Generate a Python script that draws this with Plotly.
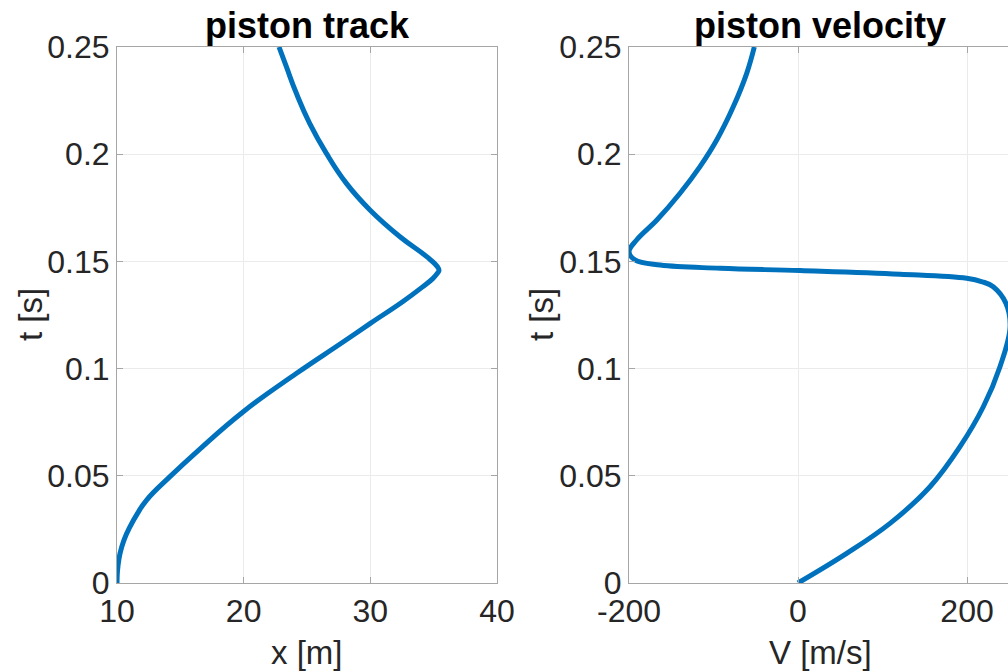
import plotly.graph_objects as go

# Piston track: position x [m] against time t [s]
track_t = [0.0, 0.0040, 0.0085, 0.0138, 0.0200, 0.0263, 0.0325, 0.0387, 0.0496, 0.0620,
           0.0799, 0.0978, 0.1118, 0.1211, 0.1312, 0.1380, 0.1421, 0.1445, 0.1458,
           0.1475, 0.1522, 0.1615, 0.1740, 0.1864, 0.2004, 0.2144, 0.2284, 0.2408, 0.2500]
track_x = [10.0, 10.02, 10.09, 10.24, 10.55, 11.03, 11.62, 12.34, 14.18, 16.45,
           19.97, 24.18, 27.7, 30.0, 32.55, 34.1, 34.95, 35.3, 35.42,
           35.3, 34.45, 32.34, 29.97, 28.11, 26.53, 25.21, 24.16, 23.37, 22.79]

# Piston velocity: V [m/s] against time t [s]
vel_t = [0.0, 0.0138, 0.0278, 0.0449, 0.0636, 0.0822, 0.1009, 0.1196, 0.1305,
         0.1382, 0.1405, 0.1421, 0.1440, 0.1457, 0.1468, 0.1483, 0.1507, 0.1545,
         0.1600, 0.1693, 0.1818, 0.1942, 0.2066, 0.2222, 0.2377, 0.2500]
vel_v = [0.0, 57.6, 108.9, 156.2, 191.7, 219.3, 239.0, 251.0, 246.0,
         231.0, 218.0, 199.6, 120.7, 2.4, -92.0, -163.0, -193.0, -200.0,
         -191.0, -167.0, -139.6, -116.0, -96.2, -76.5, -60.7, -51.7]

t_ticks = [0, 0.05, 0.1, 0.15, 0.2, 0.25]
t_labels = ["0", "0.05", "0.1", "0.15", "0.2", "0.25"]
x_ticks = [10, 20, 30, 40]
x_labels = ["10", "20", "30", "40"]
v_ticks = [-200, 0, 200]
v_labels = ["-200", "0", "200"]

LINE_BLUE = "#0072BD"
BOX = "#a6a6a6"
GRID = "#ebebeb"
TEXT = "#262626"
FONT = "Liberation Sans, Arial, Helvetica, sans-serif"
TICK_SIZE = 32
LABEL_SIZE = 33
TITLE_SIZE = 36

W, H = 1008, 672


def px(x):
    return x / W


def py(y):
    return (H - y) / H


fig = go.Figure()
fig.add_trace(go.Scatter(x=track_x, y=track_t, mode="lines", xaxis="x", yaxis="y",
                         line=dict(color=LINE_BLUE, width=5, shape="spline", smoothing=1.3),
                         showlegend=False, hoverinfo="skip"))
fig.add_trace(go.Scatter(x=vel_v, y=vel_t, mode="lines", xaxis="x2", yaxis="y2",
                         line=dict(color=LINE_BLUE, width=5, shape="spline", smoothing=1.1),
                         showlegend=False, hoverinfo="skip"))

common = dict(showgrid=True, gridcolor=GRID, gridwidth=1, showline=True,
              linecolor=BOX, linewidth=1, ticks="inside", ticklen=6, tickcolor=BOX,
              zeroline=False, automargin=False,
              tickfont=dict(family=FONT, size=TICK_SIZE, color=TEXT))

ydom = [py(583), py(47)]

label_font = dict(family=FONT, size=LABEL_SIZE, color=TEXT)
title_font = dict(family=FONT, size=TITLE_SIZE, color="black")


def text_at(text, x, y, font, angle=0):
    return dict(text=text, xref="paper", yref="paper", x=px(x), y=py(y),
                xanchor="center", yanchor="middle", showarrow=False,
                textangle=angle, font=font)


fig.update_layout(
    width=W, height=H,
    margin=dict(l=0, r=0, t=0, b=0, autoexpand=False),
    paper_bgcolor="white", plot_bgcolor="white",
    xaxis=dict(domain=[px(117), px(497)], range=[10, 40], anchor="y",
               tickvals=x_ticks, ticktext=x_labels, mirror="ticks", **common),
    yaxis=dict(domain=ydom, range=[0, 0.25], anchor="x",
               tickvals=t_ticks, ticktext=t_labels, mirror="ticks", **common),
    xaxis2=dict(domain=[px(629), 1.0], range=[-200, 248.5], anchor="y2",
                tickvals=v_ticks, ticktext=v_labels, mirror="ticks", **common),
    yaxis2=dict(domain=ydom, range=[0, 0.25], anchor="x2",
                tickvals=t_ticks, ticktext=t_labels, mirror=False, **common),
    annotations=[
        text_at("<b>piston track</b>", 307, 26, title_font),
        text_at("<b>piston velocity</b>", 820, 26, title_font),
        text_at("x [m]", 307, 652, label_font),
        text_at("V [m/s]", 820, 652, label_font),
        text_at("t [s]", 30, 315, label_font, -90),
        text_at("t [s]", 541, 315, label_font, -90),
    ],
)

fig.write_html("out.html")
